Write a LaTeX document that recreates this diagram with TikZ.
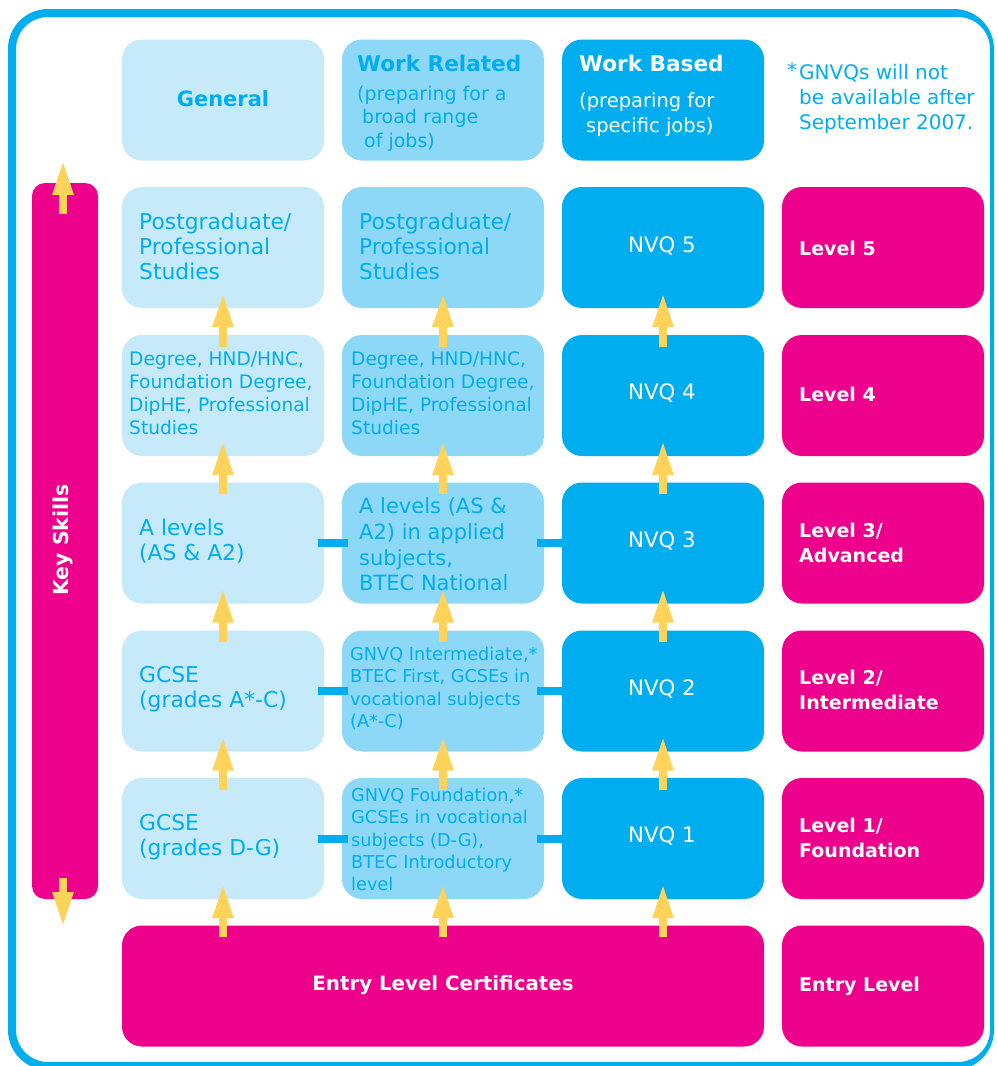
\documentclass[tikz,border=0pt]{standalone}
\usepackage{fontspec}
\setmainfont{DejaVu Sans}
\usetikzlibrary{arrows.meta,calc}
\definecolor{cyanc}{HTML}{00AEEF}
\definecolor{palec}{HTML}{C6EAF9}
\definecolor{midc}{HTML}{8ED8F7}
\definecolor{pinkc}{HTML}{EC008C}
\definecolor{yelc}{HTML}{FFD25A}
\tikzset{
  box/.style={rounded corners=20pt, minimum width=202pt, minimum height=121pt, inner sep=0pt},
  pale/.style={box, fill=palec},
  mid/.style={box, fill=midc},
  deep/.style={box, fill=cyanc},
  lvl/.style={box, fill=pinkc},
  bt/.style={text=cyanc, align=left, anchor=west, inner sep=0pt, font=\fontsize{21.8}{25}\selectfont},
  mt/.style={bt, font=\fontsize{18.6}{23}\selectfont},
  st/.style={bt, font=\fontsize{17.7}{22.3}\selectfont},
  wt/.style={text=white, inner sep=0pt, font=\fontsize{21.3}{25}\selectfont},
  hd/.style={inner sep=0pt, anchor=west, font=\bfseries\fontsize{21.6}{25}\selectfont},
  lt/.style={text=white, align=left, anchor=west, inner sep=0pt, font=\bfseries\fontsize{19}{25}\selectfont},
  yarrow/.style={draw=yelc, line width=8pt, -{Triangle[length=35pt,width=19pt]}},
  hbar/.style={draw=cyanc, line width=8pt},
}
\begin{document}
\begin{tikzpicture}[x=1pt,y=-1pt]
\useasboundingbox (0,0) rectangle (998,1066);
% outer frame
\fill[cyanc, even odd rule] [rounded corners=40pt] (8,9) rectangle (994,1070)
  [rounded corners=32pt] (16,17) rectangle (990,1062);

% column headers
\node[pale] (h1) at (223,100) {};
\node[mid]  (h2) at (443,100) {};
\node[deep] (h3) at (663,100) {};
\node[text=cyanc, inner sep=0pt, font=\bfseries\fontsize{21}{25}\selectfont] (h1t) at (223,99) {General};
\node[hd, text=cyanc] (h2t) at (357,63) {Work Related};
\node[bt, font=\fontsize{19}{23.5}\selectfont] (h2s) at (357,118.5) {(preparing for a\\\hspace*{5pt}broad range\\\hspace*{7pt}of jobs)};
\node[hd, text=white] (h3t) at (579,63) {Work Based};
\node[bt, text=white, font=\fontsize{19.5}{25}\selectfont] (h3s) at (579,114.5) {(preparing for\\\hspace*{7pt}specific jobs)};
\node[bt, font=\fontsize{20}{25}\selectfont] (note) at (799,98) {\llap{\raisebox{2pt}{*}\kern2pt}GNVQs will not\\be available after\\September 2007.};

% key skills bar
\node[fill=pinkc, rounded corners=13pt, minimum width=66pt, minimum height=716pt, inner sep=0pt] (ks) at (65,541) {};
\node[text=white, rotate=90, inner sep=0pt, font=\bfseries\fontsize{20.5}{25}\selectfont] (kst) at (63,540) {Key Skills};

% level 5
\node[pale] (b5c1) at (223,247.5) {};
\node[mid]  (b5c2) at (443,247.5) {};
\node[deep] (b5c3) at (663,247.5) {};
\node[lvl]  (l5)   at (883,247.5) {};
\node[bt] (t5a) at (139,246) {Postgraduate/\\Professional\\Studies};
\node[bt] (t5b) at (359,246) {Postgraduate/\\Professional\\Studies};
\node[wt] (t5c) at (662,246) {NVQ 5};
\node[lt] (t5d) at (799,248) {Level 5};

% level 4
\node[pale] (b4c1) at (223,395.5) {};
\node[mid]  (b4c2) at (443,395.5) {};
\node[deep] (b4c3) at (663,395.5) {};
\node[lvl]  (l4)   at (883,395.5) {};
\node[mt] (t4a) at (129,393.5) {Degree, HND/HNC,\\Foundation Degree,\\DipHE, Professional\\Studies};
\node[mt] (t4b) at (351,393.5) {Degree, HND/HNC,\\Foundation Degree,\\DipHE, Professional\\Studies};
\node[wt] (t4c) at (662,393) {NVQ 4};
\node[lt] (t4d) at (799,394) {Level 4};

% level 3
\node[pale] (b3c1) at (223,543) {};
\node[mid]  (b3c2) at (443,543) {};
\node[deep] (b3c3) at (663,543) {};
\node[lvl]  (l3)   at (883,543) {};
\node[bt] (t3a) at (139,541.5) {A levels\\(AS \& A2)};
\node[bt, font=\fontsize{21}{25.7}\selectfont] (t3b) at (359,544.5) {A levels (AS \&\\A2) in applied\\subjects,\\BTEC National};
\node[wt] (t3c) at (662,541) {NVQ 3};
\node[lt] (t3d) at (799,542.5) {Level 3/\\Advanced};

% level 2
\node[pale] (b2c1) at (223,691) {};
\node[mid]  (b2c2) at (443,691) {};
\node[deep] (b2c3) at (663,691) {};
\node[lvl]  (l2)   at (883,691) {};
\node[bt] (t2a) at (139,689.5) {GCSE\\(grades A*-C)};
\node[st] (t2b) at (350,688.5) {GNVQ Intermediate,*\\BTEC First, GCSEs in\\vocational subjects\\(A*-C)};
\node[wt] (t2c) at (662,689) {NVQ 2};
\node[lt] (t2d) at (799,689.5) {Level 2/\\Intermediate};

% level 1
\node[pale] (b1c1) at (223,838.5) {};
\node[mid]  (b1c2) at (443,838.5) {};
\node[deep] (b1c3) at (663,838.5) {};
\node[lvl]  (l1)   at (883,838.5) {};
\node[bt] (t1a) at (139,837) {GCSE\\(grades D-G)};
\node[st] (t1b) at (351,839.5) {GNVQ Foundation,*\\GCSEs in vocational\\subjects (D-G),\\BTEC Introductory\\level};
\node[wt] (t1c) at (662,836) {NVQ 1};
\node[lt] (t1d) at (799,837.5) {Level 1/\\Foundation};

% entry level
\node[box, fill=pinkc, minimum width=642pt] (entry) at (443,986) {};
\node[lvl] (le) at (883,986) {};
\node[text=white, inner sep=0pt, font=\bfseries\fontsize{19.8}{25}\selectfont] (entt) at (443,985) {Entry Level Certificates};
\node[lt] (led) at (799,986) {Entry Level};

% horizontal links between routes
\foreach \r in {3,2,1}{
  \draw[hbar] ([xshift=-6pt]b\r c1.east) -- ([xshift=6pt]b\r c2.west);
  \draw[hbar] ([xshift=-7pt]b\r c2.east) -- ([xshift=1pt]b\r c3.west);
}

% progression arrows
\foreach \c in {1,2,3}{
  \draw[yarrow] ($(b1c\c.south |- entry.north)+(0,12)$) -- ([yshift=16pt]b1c\c.south);
  \draw[yarrow] ([yshift=-12pt]b1c\c.north) -- ([yshift=16pt]b2c\c.south);
  \draw[yarrow] ([yshift=-12pt]b2c\c.north) -- ([yshift=16pt]b3c\c.south);
  \draw[yarrow] ([yshift=-12pt]b3c\c.north) -- ([yshift=16pt]b4c\c.south);
  \draw[yarrow] ([yshift=-12pt]b4c\c.north) -- ([yshift=16pt]b5c\c.south);
}
% key skills arrows
\draw[yarrow] ([xshift=-2pt,yshift=-31pt]ks.north) -- ([xshift=-2pt,yshift=23pt]ks.north);
\draw[yarrow] ([xshift=-2pt,yshift=21pt]ks.south) -- ([xshift=-2pt,yshift=-28pt]ks.south);
\end{tikzpicture}
\end{document}
